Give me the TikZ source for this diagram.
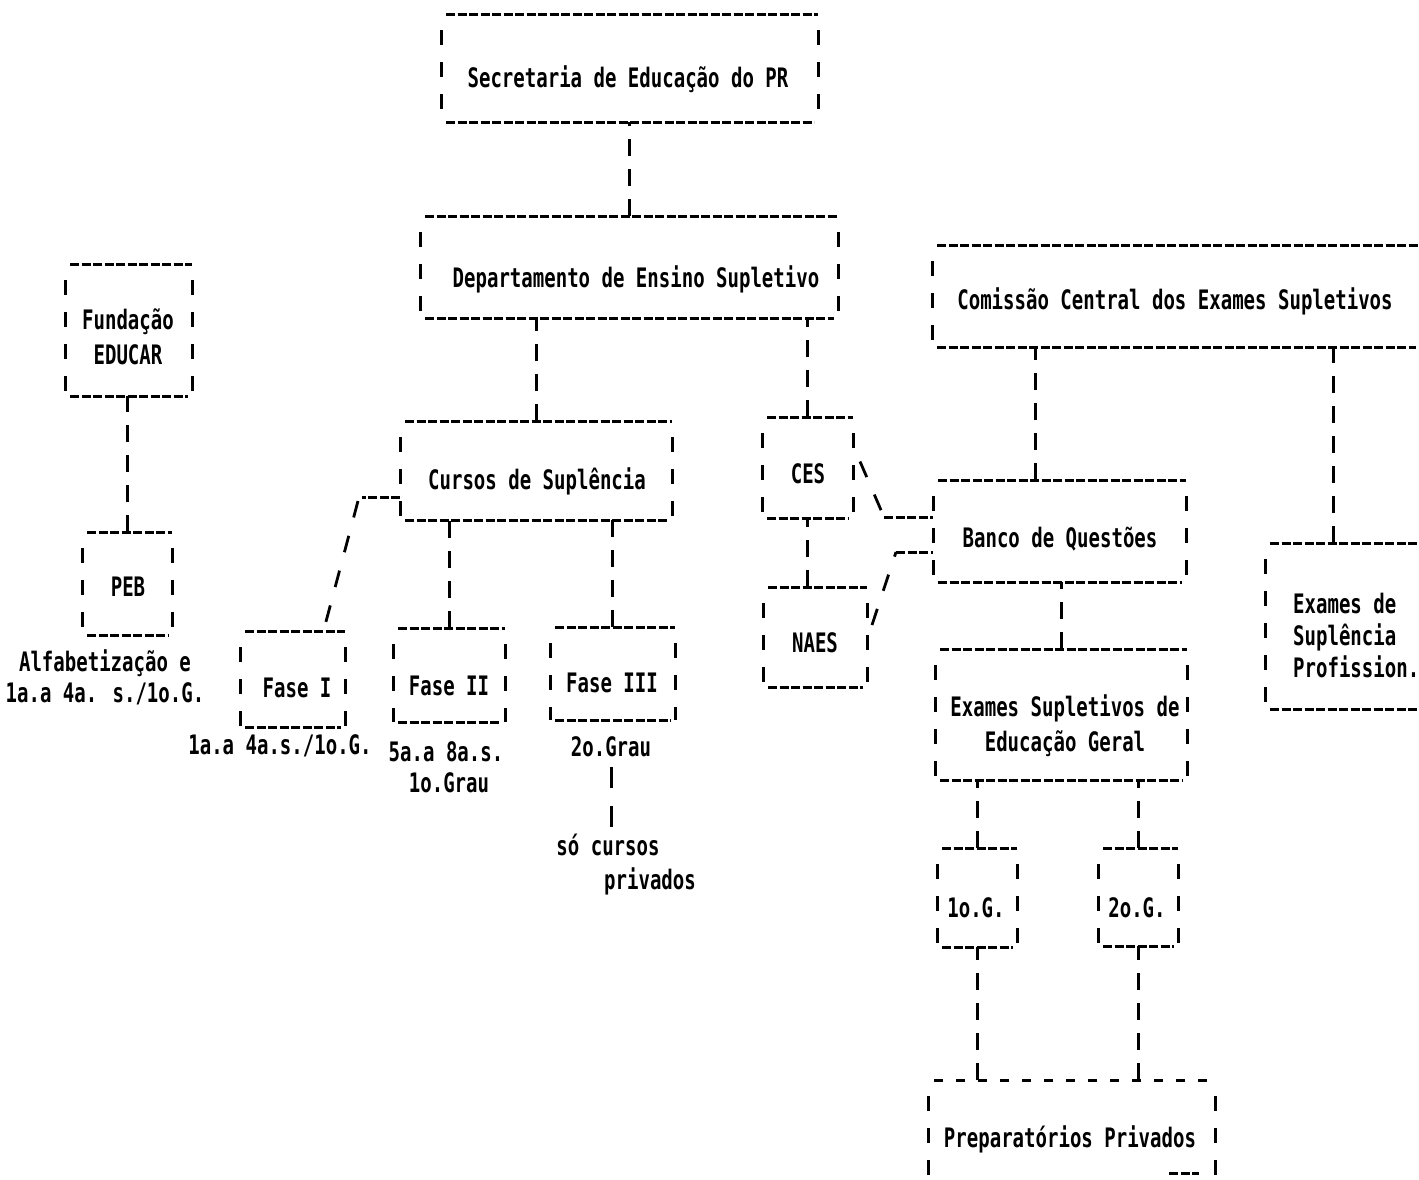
\documentclass[tikz,border=0pt]{standalone}
\usepackage{fontspec}
\usetikzlibrary{calc}
\newfontfamily\dotmatrix[FakeStretch=0.71]{DejaVu Sans Mono Bold}

\tikzset{
  frame/.style={rectangle, draw=none, inner sep=0pt, outer sep=0pt},
  hline/.style={line width=3pt, dash pattern=on 9pt off 2.5pt},
  vline/.style={line width=3pt, dash pattern=on 15pt off 17pt, dash phase=16pt},
  link/.style={line width=3pt, dash pattern=on 17pt off 13pt},
  slash/.style={line width=2.8pt, dash pattern=on 17pt off 19pt},
  sparse/.style={line width=3pt, dash pattern=on 9pt off 13pt},
  txt/.style={anchor=base, inner sep=0pt, font=\dotmatrix\fontsize{26.8}{31}\selectfont},
  txtl/.style={txt, anchor=base west},
}

% dashed typewriter frame round a box node
\newcommand\tframe[1]{%
  \draw[hline] ([xshift=5pt]#1.north west) -- (#1.north east);
  \draw[hline] ([xshift=5pt]#1.south west) -- ([xshift=-4pt]#1.south east);
  \draw[vline] (#1.north west) -- (#1.south west);
  \draw[vline] (#1.north east) -- (#1.south east);}
% box node from its left, top, right and bottom edges
\newcommand\tbox[5]{%
  \node[frame, minimum width={#4-#2}, minimum height={#5-#3}] (#1)
    at ({(#2+#4)/2},{(#3+#5)/2}) {};
  \tframe{#1}}

\begin{document}
\begin{tikzpicture}[x=1pt, y=-1pt]
\clip (0,0) rectangle (1419,1179);
\fill[white] (0,0) rectangle (1419,1179);

% ---- boxes
\tbox{S}{441}{14}{818}{122}
\tbox{D}{420}{216}{838}{318}
\tbox{FE}{65}{264}{192}{396}
\tbox{PEB}{82}{532}{172}{635}
\tbox{C}{400}{421}{672}{520}
\tbox{F1}{240}{631}{345}{727}
\tbox{F2}{393}{628}{505}{722}
\tbox{F3}{550}{627}{675}{720}
\tbox{CES}{762}{417}{853}{518}
\tbox{N}{763}{587}{867}{687}
\tbox{CC}{932}{245}{1420}{347}
\tbox{B}{933}{480}{1186}{582}
\tbox{E}{935}{649}{1187}{780}
\tbox{G1}{937}{848}{1017}{947}
\tbox{G2}{1098}{848}{1178}{946}
\tbox{XP}{1265}{543}{1422}{709}
% open box at the foot, top rule loosely spaced
\node[frame, minimum width=287, minimum height=110] (P) at (1071.5,1135) {};
\draw[sparse] ([xshift=6pt]P.north west) -- (P.north east);
\draw[vline] (P.north west) -- (P.south west);
\draw[vline] (P.north east) -- (P.south east);
\draw[hline] ([xshift=-46pt,yshift=17pt]P.south east) -- ++(30,0);

% ---- texts
\node[txt] (S-t) at (628,87) {Secretaria de Educação do PR};
\node[txt] (D-t) at (636,287) {Departamento de Ensino Supletivo};
\node[txt] (FE-t1) at (128,329) {Fundação};
\node[txt] (FE-t2) at (128,364) {EDUCAR};
\node[txt] (PEB-t) at (128,596) {PEB};
\node[txt] (PEB-c1) at (105,671) {Alfabetização e};
\node[txt] (PEB-c2) at (105,702) {1a.a 4a. s./1o.G.};
\node[txt] (C-t) at (537,489) {Cursos de Suplência};
\node[txt] (F1-t) at (297,697) {Fase I};
\node[txt] (F1-c) at (280,754) {1a.a 4a.s./1o.G.};
\node[txt] (F2-t) at (449,695) {Fase II};
\node[txt] (F2-c1) at (446,761) {5a.a 8a.s.};
\node[txt] (F2-c2) at (449,792) {1o.Grau};
\node[txt] (F3-t) at (612,692) {Fase III};
\node[txt] (F3-c) at (611,756) {2o.Grau};
\node[txt] (F3-n1) at (608,855) {só cursos};
\node[txt] (F3-n2) at (650,889) {privados};
\node[txt] (CES-t) at (808,483) {CES};
\node[txt] (N-t) at (815,652) {NAES};
\node[txt] (CC-t) at (1175,309) {Comissão Central dos Exames Supletivos};
\node[txt] (B-t) at (1060,547) {Banco de Questões};
\node[txt] (E-t1) at (1065,716) {Exames Supletivos de};
\node[txt] (E-t2) at (1065,751) {Educação Geral};
\node[txt] (G1-t) at (976,917) {1o.G.};
\node[txt] (G2-t) at (1137,917) {2o.G.};
\node[txt] (P-t) at (1070,1147) {Preparatórios Privados};
\node[txtl] (XP-t1) at (1293,613) {Exames de};
\node[txtl] (XP-t2) at (1293,645) {Suplência};
\node[txtl] (XP-t3) at (1293,677) {Profission.};

% ---- connectors (drawn upward from the lower box)
\draw[link] (D.north) -- (D.north |- S.south);
\draw[link] (C.north) -- (C.north |- D.south);
\draw[link] (CES.north) -- (CES.north |- D.south);
\draw[link] (F2.north) -- (F2.north |- C.south);
\draw[link] (F3.north) -- (F3.north |- C.south);
\draw[link] (PEB.north) -- (PEB.north |- FE.south);
\draw[link] (N.north -| CES.south) -- (CES.south);
\draw[link, dash pattern=on 21pt off 18pt, shorten <=10pt, shorten >=3pt]
  (F3-c.south) -- (F3-c.south |- F3-n1.north);
\coordinate (cb) at ($(B.north)+(-24,0)$);
\draw[link] (cb) -- (cb |- CC.south);
\coordinate (cx) at ($(XP.north)+(-10,0)$);
\draw[link] (cx) -- (cx |- CC.south);
\draw[link] (E.north) -- (E.north |- B.south);
\draw[link] (G1.north) -- (G1.north |- E.south);
\draw[link] (G2.north) -- (G2.north |- E.south);
\draw[link] (P.north -| G1.south) -- (G1.south);
\draw[link] (P.north -| G2.south) -- (G2.south);

% slanted branch to Fase I
\coordinate (f1a) at (362,497);
\coordinate (f1b) at ($(F1.north)+(31,0)$);
\draw[hline] (C.west |- f1a) -- (f1a);
\draw[slash] (358,501) -- (f1b);

% CES and NAES into Banco de Questões
\coordinate (cesb) at (884,517);
\draw[slash] ($(CES.east)+(7,-6)$) -- (cesb);
\draw[hline] (cesb) -- (B.west |- cesb);
\coordinate (naesb) at (896,552);
\draw[slash] ($(N.east)+(5,-12)$) -- (naesb);
\draw[hline] (naesb) -- (B.west |- naesb);
\end{tikzpicture}
\end{document}
